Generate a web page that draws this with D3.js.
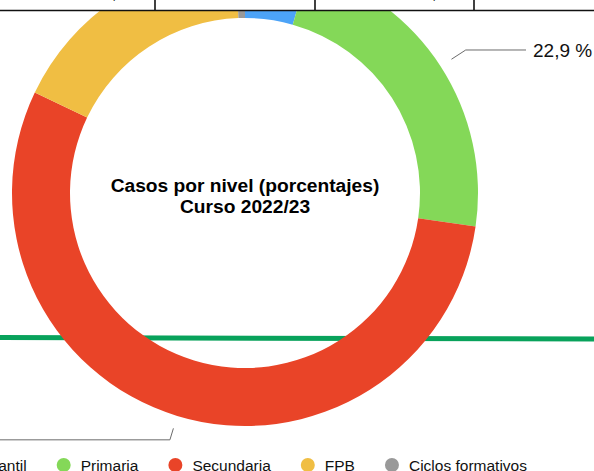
<!DOCTYPE html>
<html>
<head>
<meta charset="utf-8">
<script src="https://cdn.jsdelivr.net/npm/d3@7"></script>
<style>
  html, body { margin: 0; padding: 0; background: #fff; }
  svg { display: block; font-family: "Liberation Sans", Arial, Helvetica, sans-serif; }
</style>
</head>
<body>
<div id="chart"></div>
<script>
const categories = ['Infantil', 'Primaria', 'Secundaria', 'FPB', 'Ciclos formativos'];
const values = [4.4, 22.9, 54.8, 17.3, 0.6];
const colors = ['#4ca3f7', '#84d858', '#e94428', '#f0be43', '#999999'];
const titleLines = ['Casos por nivel (porcentajes)', 'Curso 2022/23'];
const tableColumns = [155, 315, 474];

const WIDTH = 594;
const HEIGHT = 471;
const CENTER = { x: 245, y: 193 };
const R_INNER = 175;
const R_OUTER = 233;

const fmtPct = (v) => `${v.toFixed(1).replace('.', ',')} %`;

const data = categories.map((name, i) => ({ name, value: values[i], color: colors[i] }));

const svg = d3.select('#chart')
  .append('svg')
  .attr('width', WIDTH)
  .attr('height', HEIGHT)
  .attr('viewBox', `0 0 ${WIDTH} ${HEIGHT}`);

// green rule that runs behind the donut
svg.append('line')
  .attr('x1', 0).attr('x2', WIDTH)
  .attr('y1', 337.5).attr('y2', 339)
  .attr('stroke', '#08a25b')
  .attr('stroke-width', 5);

const g = svg.append('g')
  .attr('transform', `translate(${CENTER.x},${CENTER.y})`);

const pie = d3.pie()
  .sort(null)
  .value((d) => d.value);

const arc = d3.arc()
  .innerRadius(R_INNER)
  .outerRadius(R_OUTER);

const arcs = pie(data);

g.selectAll('path.slice')
  .data(arcs)
  .join('path')
  .attr('class', 'slice')
  .attr('fill', (d) => d.data.color)
  .attr('d', arc);

// leader lines + value labels
const polar = (r, a) => [r * Math.sin(a), -r * Math.cos(a)];

arcs.forEach((d) => {
  const mid = (d.startAngle + d.endAngle) / 2;
  const right = mid < Math.PI;
  const p0 = polar(R_OUTER + 13, mid);
  const p1 = polar(R_OUTER + (right ? 30 : 25), mid);
  const xEnd = right ? 281 : -300;
  g.append('polyline')
    .attr('fill', 'none')
    .attr('stroke', '#6b6b6b')
    .attr('stroke-width', 1)
    .attr('points', [p0, p1, [xEnd, p1[1]]].map((p) => p.join(',')).join(' '));
  g.append('text')
    .attr('x', right ? xEnd + 7 : xEnd - 7)
    .attr('y', p1[1] + 7)
    .attr('text-anchor', right ? 'start' : 'end')
    .attr('font-size', '19px')
    .attr('fill', '#111')
    .text(fmtPct(d.data.value));
});

// centre title
titleLines.forEach((line, i) => {
  g.append('text')
    .attr('x', 0)
    .attr('y', -1 + i * 21)
    .attr('text-anchor', 'middle')
    .attr('font-size', '19.2px')
    .attr('font-weight', 'bold')
    .attr('fill', '#000')
    .text(line);
});

// table edge overlapping the top of the chart
svg.append('rect')
  .attr('x', 0).attr('y', 0)
  .attr('width', WIDTH).attr('height', 10)
  .attr('fill', '#fff');
svg.append('line')
  .attr('x1', 0).attr('x2', WIDTH)
  .attr('y1', 10.5).attr('y2', 10.5)
  .attr('stroke', '#111')
  .attr('stroke-width', 1.6);
tableColumns.forEach((x) => {
  svg.append('line')
    .attr('x1', x).attr('x2', x)
    .attr('y1', 0).attr('y2', 10)
    .attr('stroke', '#111')
    .attr('stroke-width', 1.6);
});
[112, 432].forEach((x) => {
  svg.append('text')
    .attr('x', x).attr('y', -1)
    .attr('font-size', '16px')
    .attr('fill', '#111')
    .text(',');
});

// legend, laid out from measured text widths
const legend = svg.append('g')
  .attr('transform', `translate(0,465)`);
let cursor = -36;
data.forEach((d) => {
  const item = legend.append('g').attr('transform', `translate(${cursor},0)`);
  item.append('circle')
    .attr('r', 7)
    .attr('fill', d.color);
  const label = item.append('text')
    .attr('x', 17)
    .attr('y', 5.5)
    .attr('font-size', '15.5px')
    .attr('fill', '#111')
    .text(d.name);
  cursor += 17 + label.node().getComputedTextLength() + 37;
});
</script>
</body>
</html>
